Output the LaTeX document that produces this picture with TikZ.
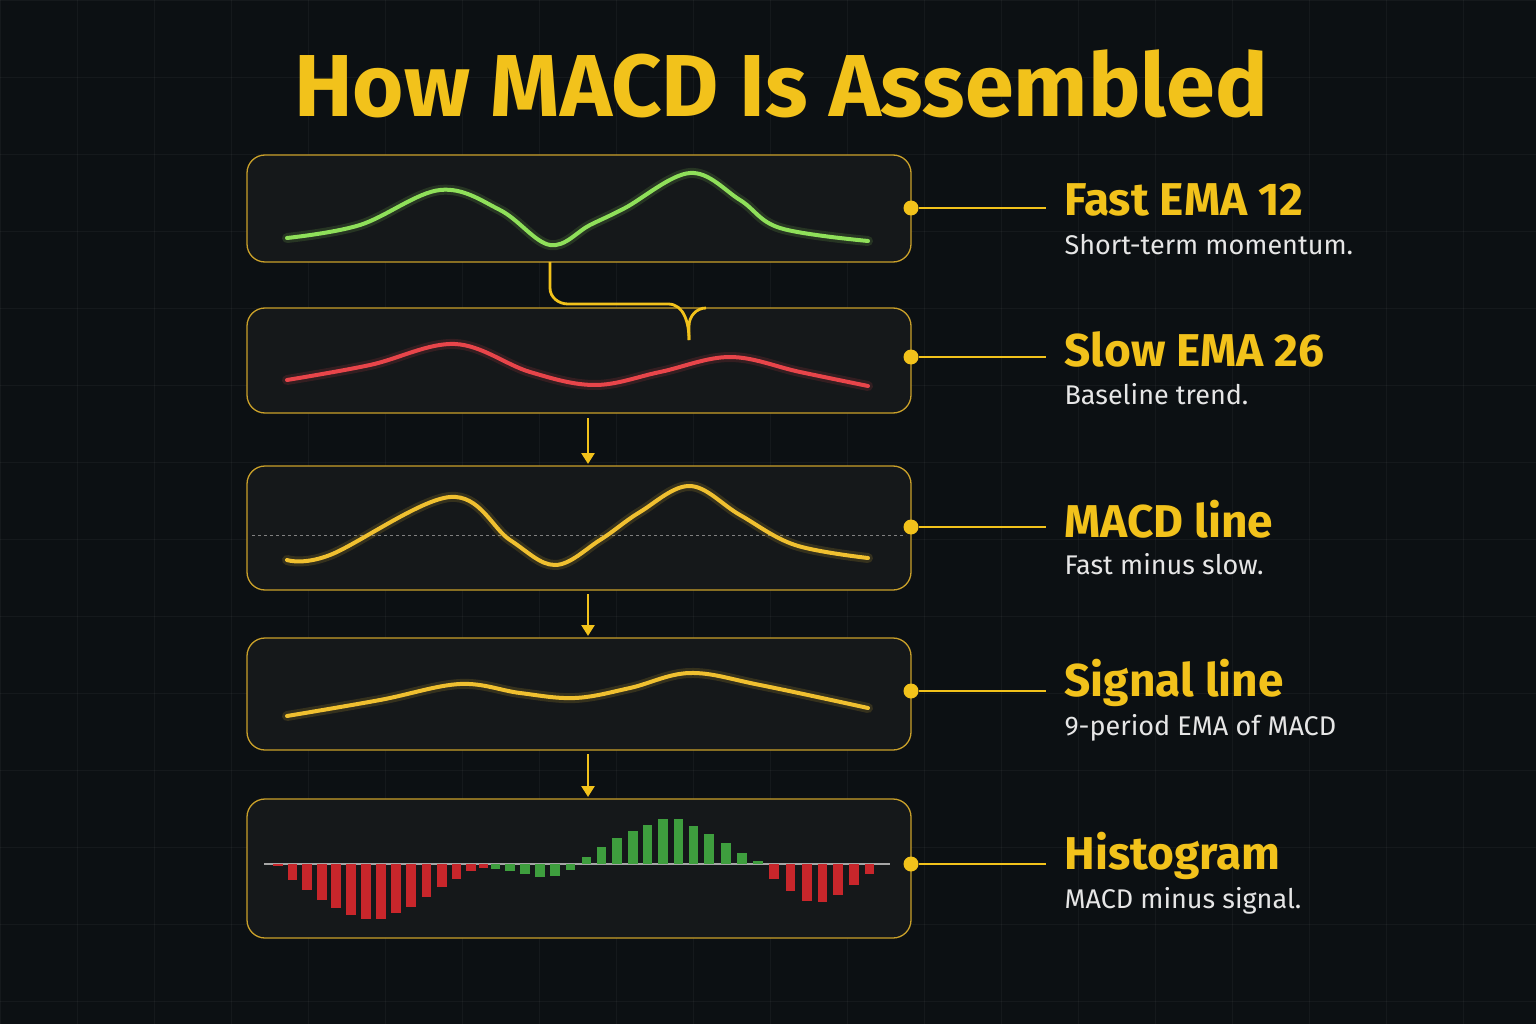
\documentclass[tikz,border=0pt]{standalone}
\usepackage{fontspec}
\setmainfont{Fira Sans}
\usetikzlibrary{arrows.meta}
\definecolor{bg}{HTML}{0C1013}
\definecolor{panel}{HTML}{15181A}
\definecolor{gold}{HTML}{F2C21B}
\definecolor{edge}{HTML}{C9A02A}
\definecolor{cgreen}{HTML}{8FE05A}
\definecolor{cred}{HTML}{E8454A}
\definecolor{cyel}{HTML}{F0C030}
\definecolor{hred}{HTML}{C8262B}
\definecolor{hgreen}{HTML}{3E9E3E}
\definecolor{sub}{HTML}{E6E6E6}
\begin{document}
\begin{tikzpicture}[x=1pt,y=-1pt,
  panelbox/.style={draw=edge,line width=1.3pt,fill=panel,rounded corners=18pt},
  dot/.style={circle,fill=gold,inner sep=0pt,minimum size=15pt},
  lead/.style={gold,line width=2.6pt},
  head/.style={anchor=west,text=gold,font=\bfseries\fontsize{46}{50}\selectfont},
  subt/.style={anchor=west,text=sub,font=\fontsize{27}{31}\selectfont},
  curve/.style={line width=4pt,line cap=round},
  glow/.style={line width=10pt,line cap=round,opacity=0.15},
  arr/.style={gold,line width=2.6pt,-{Triangle[length=11pt,width=13pt]}}]
\useasboundingbox (0,0) rectangle (1536,1024);
\fill[bg] (0,0) rectangle (1536,1024);
\foreach \x in {0,77,...,1536} \draw[white,opacity=0.04] (\x,0)--(\x,1024);
\foreach \y in {0,77,...,1024} \draw[white,opacity=0.04] (0,\y)--(1536,\y);
\node[text=gold,font=\bfseries\fontsize{88}{92}\selectfont] (title) at (781,84) {How MACD Is Assembled};
% panels
\path[panelbox] (247,155) rectangle (911,262); \coordinate (p1) at (579,208);
\path[panelbox] (247,308) rectangle (911,413); \coordinate (p2) at (579,360);
\path[panelbox] (247,466) rectangle (911,590); \coordinate (p3) at (579,528);
\path[panelbox] (247,638) rectangle (911,750); \coordinate (p4) at (579,694);
\path[panelbox] (247,799) rectangle (911,938); \coordinate (p5) at (579,868);
% curves
\foreach \st in {glow,curve}{
\draw[\st,cgreen] plot[smooth,tension=0.6] coordinates {(287,238) (360,225) (440,190) (500,210) (550,245) (590,225) (625,208) (690,173) (740,200) (780,228) (868,241)};
\draw[\st,cred] plot[smooth,tension=0.6] coordinates {(287,380) (370,365) (455,344) (530,372) (595,385) (660,372) (730,357) (800,372) (868,386)};
}
\draw[gray,dashed,line width=1pt] (252,535)--(906,535);
\foreach \st in {glow,curve}{
\draw[\st,cyel] plot[smooth,tension=0.6] coordinates {(287,560) (330,555) (450,497) (510,540) (555,565) (600,540) (640,512) (690,486) (740,515) (795,545) (868,558)};
\draw[\st,cyel] plot[smooth,tension=0.6] coordinates {(287,716) (380,700) (460,684) (520,693) (575,698) (630,688) (690,673) (760,685) (868,708)};
}
% histogram
\draw[gray!70,line width=1.2pt] (264,864)--(890,864);
\foreach \zx/\zh in {85/-5,118/-48,150/-78,183/-108,215/-133,248/-153,282/-165,316/-165,350/-148,383/-130,418/-100,452/-70,485/-45,518/-20,545/-12,1196/-45,1233/-80,1270/-110,1305/-113,1340/-92,1376/-62,1410/-30}
  \fill[hred] ({240+\zx/2.24-4.8},864) rectangle ({240+\zx/2.24+4.8},{864-\zh/3});
\foreach \zx/\zh in {572/-14,605/-20,638/-30,672/-40,706/-37,740/-18,776/22,810/52,845/77,880/98,913/118,948/136,982/136,1016/115,1051/91,1088/62,1124/33,1160/10}
  \fill[hgreen] ({240+\zx/2.24-4.8},864) rectangle ({240+\zx/2.24+4.8},{864-\zh/3});
% dots, leads, labels
\foreach \i/\y/\h/\s in {1/208/Fast EMA 12/Short-term momentum.,2/357/Slow EMA 26/Baseline trend.,3/527/MACD line/Fast minus slow.,4/691/Signal line/9-period EMA of MACD,5/864/Histogram/MACD minus signal.}{
  \node[dot] (d\i) at (911,\y) {};
  \coordinate (e\i) at (1046,\y);
  \draw[lead] (d\i) -- (e\i);
  \node[head] (h\i) at (1061,\y-8) {\h};
  \node[subt] (s\i) at (1061,\y+37) {\s};
}
% connectors
\coordinate (c1) at (550,262);
\coordinate (c2) at (689,340);
\coordinate (c3) at (706,308);
\draw[gold,line width=2.8pt] (c1) -- (550,288) to[out=-90,in=180] (568,304) -- (668,304) to[out=0,in=90] (c2);
\draw[gold,line width=2.8pt] (c2) -- (689,326) to[out=90,in=180] (c3);
\coordinate (a1) at (588,418); \coordinate (b1) at (588,464);
\coordinate (a2) at (588,594); \coordinate (b2) at (588,636);
\coordinate (a3) at (588,754); \coordinate (b3) at (588,797);
\draw[arr] (a1)--(b1); \draw[arr] (a2)--(b2); \draw[arr] (a3)--(b3);
\end{tikzpicture}
\end{document}
